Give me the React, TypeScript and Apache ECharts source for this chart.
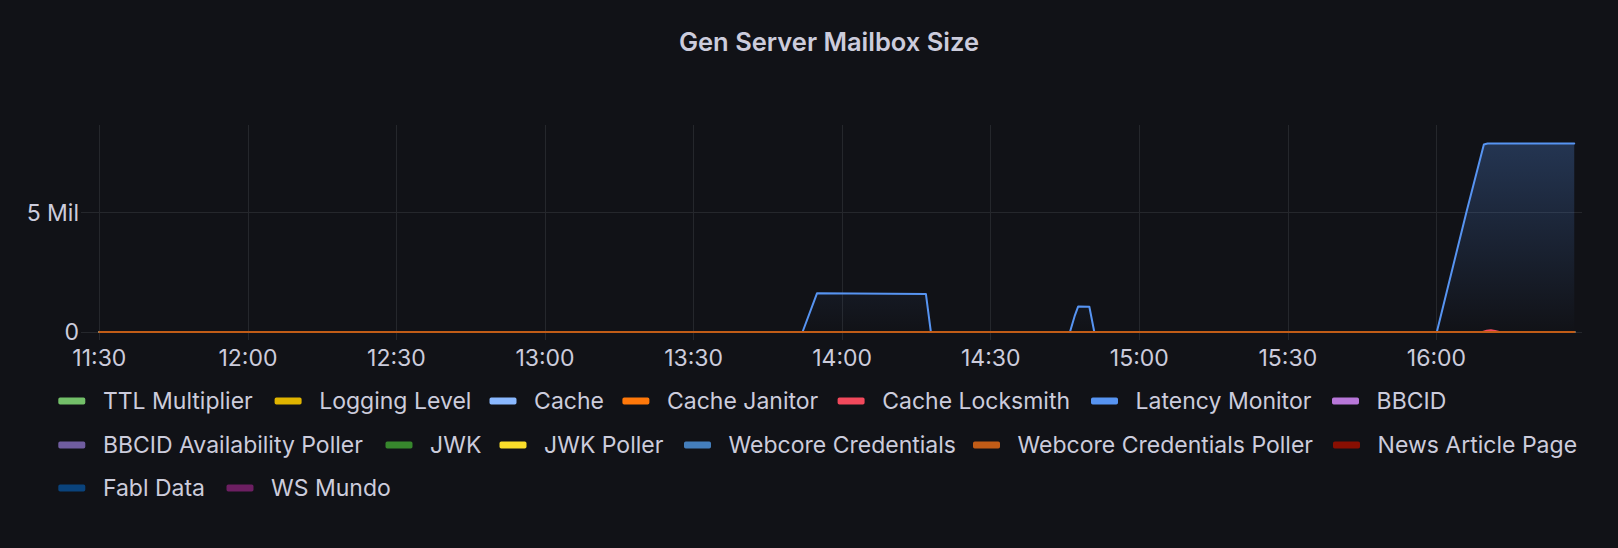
import React, { useEffect, useRef } from 'react';
import * as echarts from 'echarts';

const TITLE = 'Gen Server Mailbox Size';
const X_TICKS = ['11:30', '12:00', '12:30', '13:00', '13:30', '14:00', '14:30', '15:00', '15:30', '16:00'];
const X_RANGE = ['11:28:07', '16:29:24'];
const Y_TICKS = [0, 5000000];
const Y_MAX = 8668000;

const SERIES_NAMES = [
  'TTL Multiplier', 'Logging Level', 'Cache', 'Cache Janitor', 'Cache Locksmith',
  'Latency Monitor', 'BBCID', 'BBCID Availability Poller', 'JWK', 'JWK Poller',
  'Webcore Credentials', 'Webcore Credentials Poller', 'News Article Page', 'Fabl Data', 'WS Mundo',
];
const SERIES_COLORS = [
  '#73BF69', '#E0B400', '#8AB8FF', '#FF780A', '#F2495C',
  '#5794F2', '#B877D9', '#705DA0', '#37872D', '#FADE2A',
  '#447EBC', '#C15C17', '#890F02', '#0A437C', '#6D1F62',
];

// legend rows as laid out by the panel (item names per row)
const LEGEND_ROWS = [
  ['TTL Multiplier', 'Logging Level', 'Cache', 'Cache Janitor', 'Cache Locksmith', 'Latency Monitor', 'BBCID'],
  ['BBCID Availability Poller', 'JWK', 'JWK Poller', 'Webcore Credentials', 'Webcore Credentials Poller', 'News Article Page'],
  ['Fabl Data', 'WS Mundo'],
];

const FLAT_ZERO: [string, number][] = [['11:30:00', 0], ['16:27:50', 0]];
const NO_DATA: [string, number][] = [];

const LATENCY_MONITOR: [string, number][] = [
  ['11:30:00', 0], ['13:52:00', 0], ['13:54:55', 1620000], ['14:16:55', 1590000], ['14:17:55', 0],
  ['14:46:00', 0], ['14:47:00', 700000], ['14:47:40', 1070000], ['14:49:55', 1060000], ['14:50:55', 0],
  ['16:00:05', 0], ['16:06:05', 5040000], ['16:09:35', 7850000], ['16:10:20', 7890000], ['16:27:50', 7890000],
];
const CACHE_LOCKSMITH: [string, number][] = [
  ['11:30:00', 0], ['16:09:20', 0], ['16:10:10', 50000], ['16:11:00', 70000], ['16:11:50', 45000],
  ['16:12:40', 0], ['16:27:50', 0],
];

const SERIES_DATA: [string, number][][] = [
  FLAT_ZERO, FLAT_ZERO, FLAT_ZERO, FLAT_ZERO, CACHE_LOCKSMITH,
  LATENCY_MONITOR, FLAT_ZERO, FLAT_ZERO, FLAT_ZERO, FLAT_ZERO,
  FLAT_ZERO, FLAT_ZERO, NO_DATA, NO_DATA, NO_DATA,
];

const toMin = (s: string) => {
  const p = s.split(':').map(Number);
  return p[0] * 60 + p[1] + (p[2] || 0) / 60;
};
const fmtTime = (v: number) => {
  const r = Math.round(v);
  const h = Math.floor(r / 60);
  const m = r % 60;
  return `${h}:${m < 10 ? '0' : ''}${m}`;
};
const rgba = (hex: string, a: number) => {
  const n = parseInt(hex.slice(1), 16);
  return `rgba(${(n >> 16) & 255},${(n >> 8) & 255},${n & 255},${a})`;
};

const BG = '#111217';
const TEXT = '#ccccdc';
const GRID = '#25272c';
const FONT = 'Inter, "Noto Sans", sans-serif';

// layout of the legend (pixel positions of each item's swatch, per row)
const LEGEND_LEFTS = [
  [58.3, 274.6, 489.5, 622.4, 837.6, 1091, 1332],
  [58.3, 385.5, 499.5, 684, 973, 1333],
  [58.3, 226.5],
];
const LEGEND_ROW_CENTERS = [400, 444, 487];

export default function App() {
  const ref = useRef<HTMLDivElement>(null);
  useEffect(() => {
    if (!ref.current) return;
    const chart = echarts.init(ref.current, null, { renderer: 'svg' });
    const gridTop = 125;
    const gridBottomPx = 332;
    const legends: any[] = [];
    LEGEND_ROWS.forEach((row, r) => {
      row.forEach((name, k) => {
        legends.push({
          data: [name],
          left: LEGEND_LEFTS[r][k],
          top: LEGEND_ROW_CENTERS[r] - 10.5,
          padding: 0,
          icon: 'roundRect',
          itemWidth: 27,
          itemHeight: 7,
          selectedMode: false,
          textStyle: { color: TEXT, fontSize: 23, fontFamily: FONT, lineHeight: 21, padding: [0, 0, 0, 12.6] },
        });
      });
    });
    chart.setOption({
      animation: false,
      backgroundColor: BG,
      graphic: [
        {
          type: 'text',
          x: 829,
          y: 41,
          style: {
            text: TITLE,
            fill: TEXT,
            font: `600 25.5px ${FONT}`,
            textAlign: 'center',
            textVerticalAlign: 'middle',
          },
        },
      ],
      grid: { left: 90, right: 36, top: gridTop, bottom: 548 - gridBottomPx, containLabel: false, outerBoundsMode: 'none' },
      xAxis: {
        type: 'value',
        min: toMin(X_RANGE[0]),
        max: toMin(X_RANGE[1]),
        axisLine: { show: false },
        axisTick: { show: true, length: 8, lineStyle: { color: GRID, width: 1 }, customValues: X_TICKS.map(toMin) },
        axisLabel: {
          customValues: X_TICKS.map(toMin),
          formatter: (v: number) => fmtTime(v),
          color: TEXT,
          fontSize: 23,
          fontFamily: FONT,
          margin: 14,
        },
        splitLine: { show: true, lineStyle: { color: GRID, width: 1 } },
      },
      yAxis: {
        type: 'value',
        min: 0,
        max: Y_MAX,
        axisLine: { show: false },
        axisTick: { show: true, length: 9, lineStyle: { color: GRID, width: 1 }, customValues: Y_TICKS },
        axisLabel: {
          customValues: Y_TICKS,
          formatter: (v: number) => (v === 0 ? '0' : `${v / 1000000} Mil`),
          color: TEXT,
          fontSize: 23,
          fontFamily: FONT,
          margin: 11,
        },
        splitLine: { show: true, lineStyle: { color: GRID, width: 1 } },
      },
      legend: legends,
      series: SERIES_NAMES.map((name, i) => ({
        name,
        type: 'line',
        showSymbol: false,
        symbol: 'none',
        color: SERIES_COLORS[i],
        lineStyle: { width: 2, color: SERIES_COLORS[i], join: 'round', cap: 'round' },
        areaStyle: {
          color: new echarts.graphic.LinearGradient(
            0, gridTop, 0, gridBottomPx,
            [
              { offset: 0, color: rgba(SERIES_COLORS[i], 0.42) },
              { offset: 1, color: rgba(SERIES_COLORS[i], 0.0) },
            ],
            true
          ),
        },
        data: SERIES_DATA[i].map(([t, v]) => [toMin(t), v]),
      })),
    });
    return () => chart.dispose();
  }, []);
  return (
    <div
      ref={ref}
      style={{ position: 'fixed', left: 0, top: 0, width: 1618, height: 548, background: BG }}
    />
  );
}
